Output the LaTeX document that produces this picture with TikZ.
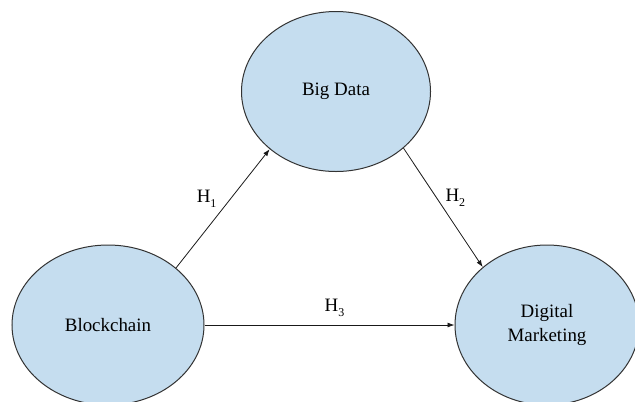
\documentclass[tikz,border=0pt]{standalone}
\usepackage{fontspec}
\setmainfont{Liberation Serif}
\usetikzlibrary{arrows.meta, shapes.geometric}

\definecolor{bubble}{RGB}{197,221,239}
\newcommand{\hsub}[1]{H\raisebox{-0.55ex}{\fontsize{12}{12}\selectfont #1}}

\begin{document}
\begin{tikzpicture}[x=1bp, y=-1bp,
    construct/.style={ellipse, draw=black!80, fill=bubble, line width=1bp,
        inner sep=0pt, minimum height=160bp, align=center,
        font=\fontsize{19}{25}\selectfont},
    link/.style={draw=black!90, line width=0.8bp,
        -{Latex[length=7bp, width=5bp]}},
    hyp/.style={inner sep=1bp, font=\fontsize{19}{20}\selectfont}]
        \useasboundingbox (0,0) rectangle (635,401);
        \clip (0,0) rectangle (635,401);

        % Constructs:
        \node [construct, minimum width=189bp] (bigdata) at (336,91.5) {Big Data};
        \node [construct, minimum width=192bp] (blockchain) at (108,325) {Blockchain};
        \node [construct, minimum width=184bp] (digital) at (547,325) {Digital\\Marketing};

        % Hypotheses:
        \draw [link] (blockchain.40) -- (bigdata.-139)
            node [hyp, midway, anchor=south east, xshift=-5bp] (h1) {\hsub{1}};
        \draw [link] (bigdata.-40) -- (digital.138)
            node [hyp, midway, anchor=south west, xshift=1bp] (h2) {\hsub{2}};
        \draw [link] (blockchain.east) -- (digital.west)
            node [hyp, midway, above=7bp, xshift=5bp] (h3) {\hsub{3}};

    \end{tikzpicture}
\end{document}
